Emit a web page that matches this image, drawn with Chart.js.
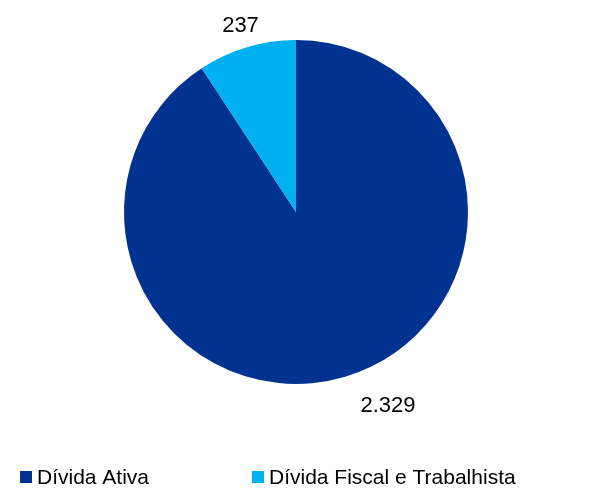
<!DOCTYPE html>
<html>
<head>
<meta charset="utf-8">
<script src="https://cdn.jsdelivr.net/npm/chart.js@4.4.0/dist/chart.umd.min.js"></script>
<style>
  html, body { margin: 0; padding: 0; background: #fff; }
  #wrap { width: 595px; height: 489px; position: relative; }
</style>
</head>
<body>
<div id="wrap"><canvas id="chart"></canvas></div>
<script>
const categories = ["Dívida Ativa", "Dívida Fiscal e Trabalhista"];
const values = [2329, 237];
const colors = ["#00338F", "#00B0F0"];

// label placement relative to each slice (degrees of shift, px beyond the rim)
const labelShift = [-8.7, 0];
const labelGap = [43, 22];

function fmt(v) {
  return String(v).replace(/\B(?=(\d{3})+(?!\d))/g, ".");
}

const valueLabels = {
  id: "valueLabels",
  afterDatasetsDraw(chart) {
    const ctx = chart.ctx;
    const meta = chart.getDatasetMeta(0);
    ctx.save();
    ctx.font = "22px 'Liberation Sans', Arial, sans-serif";
    ctx.fillStyle = "#000";
    ctx.textAlign = "center";
    ctx.textBaseline = "middle";
    meta.data.forEach((arc, i) => {
      const p = arc.getProps(["x", "y", "startAngle", "endAngle", "outerRadius"], true);
      const a = (p.startAngle + p.endAngle) / 2 + labelShift[i] * Math.PI / 180;
      const r = p.outerRadius + labelGap[i];
      ctx.fillText(fmt(values[i]), p.x + Math.cos(a) * r, p.y + Math.sin(a) * r);
    });
    ctx.restore();
  },
};

const legendX = [20, 252];
const bottomLegend = {
  id: "bottomLegend",
  afterDraw(chart) {
    const ctx = chart.ctx;
    ctx.save();
    ctx.font = "21px 'Liberation Sans', Arial, sans-serif";
    ctx.textBaseline = "middle";
    ctx.textAlign = "left";
    const y = 477;
    categories.forEach((c, i) => {
      ctx.fillStyle = colors[i];
      ctx.fillRect(legendX[i], y - 6, 12, 12);
      ctx.fillStyle = "#000";
      ctx.fillText(c, legendX[i] + 17, y + 1);
    });
    ctx.restore();
  },
};

new Chart(document.getElementById("chart"), {
  type: "pie",
  data: {
    labels: categories,
    datasets: [
      {
        data: values,
        backgroundColor: colors,
        borderWidth: 0,
      },
    ],
  },
  options: {
    responsive: true,
    maintainAspectRatio: false,
    animation: false,
    layout: { padding: { left: 124, right: 127, top: 40, bottom: 105 } },
    plugins: {
      legend: { display: false },
      tooltip: { enabled: false },
    },
  },
  plugins: [valueLabels, bottomLegend],
});
</script>
</body>
</html>
